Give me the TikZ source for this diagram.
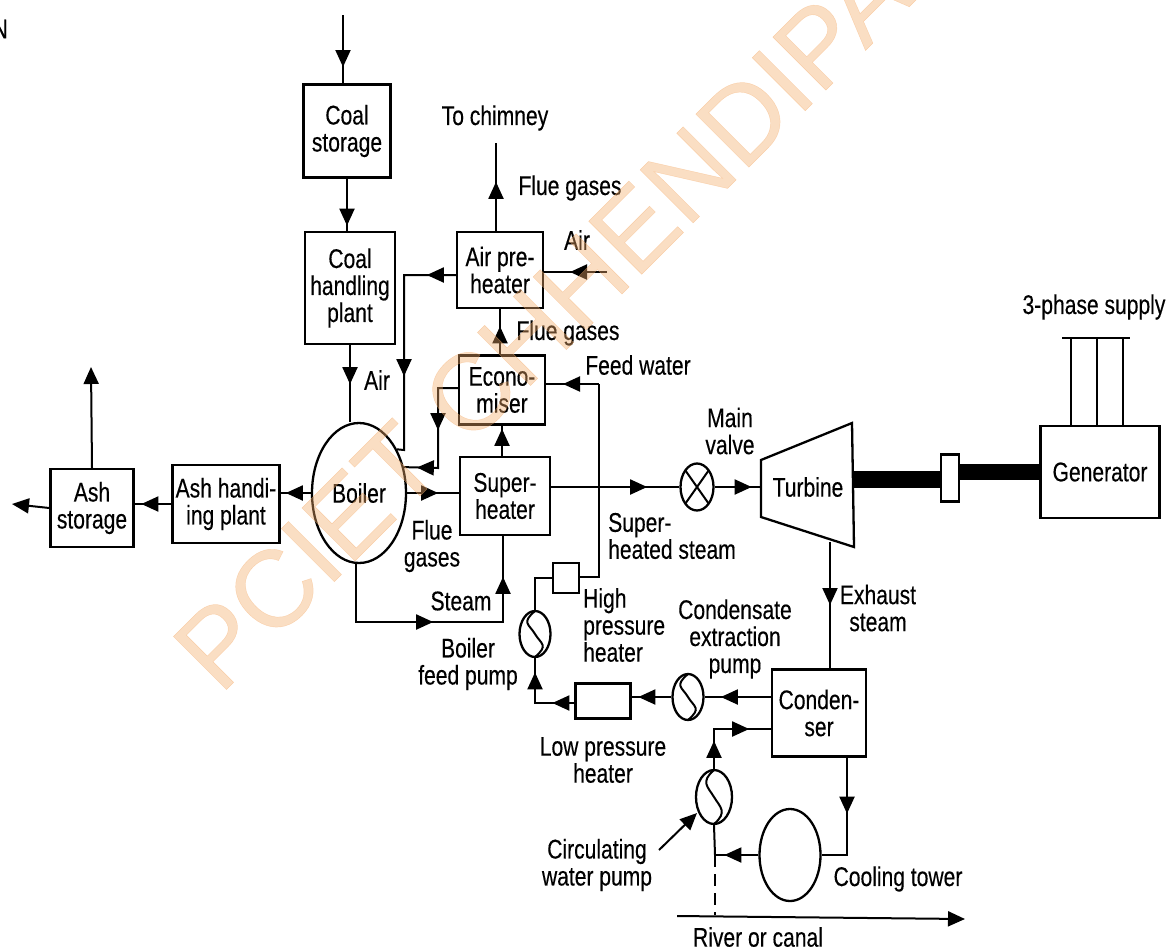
\documentclass[tikz,border=0pt]{standalone}
\usepackage{fontspec}
\setmainfont[FakeStretch=0.78,FakeBold=0.3]{Liberation Sans}
\newfontfamily\markfont[FakeBold=0.4]{Liberation Sans}
\usetikzlibrary{arrows.meta,shapes.geometric,decorations.markings}
\definecolor{stamp}{RGB}{243,172,106}

\begin{document}
\begin{tikzpicture}[x=1pt,y=-1pt]
\tikzstyle{main}=[draw=black, line width=2.3pt, inner sep=0pt, align=center, font=\fontsize{27}{27}\selectfont]
\tikzstyle{rect}=[main, rectangle]
\tikzstyle{round}=[main, ellipse]
\tikzstyle{label}=[inner sep=0pt, align=center, font=\fontsize{27}{27}\selectfont]
\tikzstyle{leftlabel}=[label, align=left, anchor=west]
\tikzstyle{connect}=[line width=2pt]
\tikzstyle{flow}=[postaction={decorate, decoration={markings, mark=at position #1 with {\arrow{Triangle[length=17pt,width=15pt]}}}}]
\tikzstyle{ending}=[connect, -{Triangle[length=17pt,width=15pt]}]
\tikzstyle{shaft}=[line width=17pt]
\tikzstyle{pump}=[round, path picture={\draw[line width=2pt] (path picture bounding box.north) .. controls +(-14pt,-12pt) and +(-6pt,10pt) .. (path picture bounding box.center) .. controls +(6pt,-10pt) and +(14pt,12pt) .. (path picture bounding box.south);}]
\tikzstyle{valve}=[round, path picture={\draw[line width=2pt] (path picture bounding box.north west) -- (path picture bounding box.south east) (path picture bounding box.north east) -- (path picture bounding box.south west);}]

  \useasboundingbox (0,0) rectangle (1174,951);

  \node[label, anchor=east] (cutoff) at (8,29) {N};

  \node[rect, minimum width=87, minimum height=93]  (coalstore)   at (347,131) {Coal\\storage};
  \node[rect, minimum width=90, minimum height=112] (coalhandle)  at (350,288) {Coal\\handling\\plant};
  \node[rect, minimum width=86, minimum height=76]  (airpre)      at (500,270) {Air pre-\\heater};
  \node[rect, minimum width=86, minimum height=69]  (econo)       at (502,390) {Econo-\\miser};
  \node[rect, minimum width=90, minimum height=78]  (super)       at (505,496) {Super-\\heater};
  \node[round, minimum width=94, minimum height=140] (boiler)     at (359,493) {Boiler};
  \node[rect, minimum width=107, minimum height=78] (ashhandle)   at (226,504) {Ash handi-\\ing plant};
  \node[rect, minimum width=83, minimum height=78]  (ashstore)    at (92,508)  {Ash\\storage};

  \node[rect, minimum width=26, minimum height=30]  (hpheater)    at (566,578) {};
  \node[rect, minimum width=55, minimum height=35]  (lpheater)    at (603,701) {};
  \node[pump, minimum width=31, minimum height=46]  (feedpump)    at (535,634) {};
  \node[pump, minimum width=31, minimum height=46]  (condpump)    at (688,697) {};
  \node[pump, minimum width=36, minimum height=54]  (circpump)    at (714,797) {};
  \node[valve, minimum width=33, minimum height=47] (mainvalve)   at (697,487) {};

  \node[rect, minimum width=94, minimum height=87]  (condenser)   at (819,713) {Conden-\\ser};
  \node[round, minimum width=61, minimum height=92] (tower)       at (790,855) {};
  \node[rect, minimum width=119, minimum height=92] (generator)   at (1100,472) {Generator};
  \node[rect, minimum width=18, minimum height=47]  (coupling)    at (950,478) {};

  \coordinate (tlt) at (761,460);
  \coordinate (trt) at (852,423);
  \coordinate (trb) at (854,547);
  \coordinate (tlb) at (761,517);
  \draw[main] (tlt) -- (trt) -- (trb) -- (tlb) -- cycle;
  \node[label] (turbine) at (808,487) {Turbine};

  \node[label] (chimney)    at (495,118) {To chimney};
  \node[label] (fluea)      at (570,188) {Flue gases};
  \node[label] (airb)       at (577,240) {Air};
  \node[label] (flueb)      at (568,333) {Flue gases};
  \node[label] (feedwater)  at (638,365) {Feed water};
  \node[label] (aira)       at (377,380) {Air};
  \node[label] (fluec)      at (432,546) {Flue\\gases};
  \node[label] (steam)      at (461,601) {Steam};
  \node[label] (feedlabel)  at (468,664) {Boiler\\feed pump};
  \node[leftlabel] (shlabel)  at (608,536) {Super-\\heated steam};
  \node[leftlabel] (hplabel)  at (583,625) {High\\pressure\\heater};
  \node[label] (condlabel)  at (735,639) {Condensate\\extraction\\pump};
  \node[label] (exhaust)    at (878,608) {Exhaust\\steam};
  \node[label] (lplabel)    at (603,760) {Low pressure\\heater};
  \node[label] (circlabel)  at (597,865) {Circulating\\water pump};
  \node[label] (coolabel)   at (898,879) {Cooling tower};
  \node[label] (river)      at (758,937) {River or canal};
  \node[label] (valvelabel) at (730,431) {Main\\valve};
  \node[label] (supply)     at (1094,307) {3-phase supply};

  \coordinate (coaltop)   at (343,15);
  \coordinate (chimneyup) at (496,143);
  \coordinate (airin)     at (607,272);
  \coordinate (ashup)     at (91,367);
  \coordinate (ashout)    at (12,504);
  \coordinate (airbend)   at (404,275);
  \coordinate (airfoot)   at (404,450);
  \coordinate (ecobend)   at (438,388);
  \coordinate (ecofoot)   at (438,468);
  \coordinate (feedtop)   at (599,384);
  \coordinate (feedfoot)  at (599,577);
  \coordinate (hpbend)    at (535,578);
  \coordinate (lpbend)    at (535,703);
  \coordinate (stmbend)   at (356,622);
  \coordinate (stmup)     at (503,622);
  \coordinate (cwbend)    at (714,729);
  \coordinate (cwtee)     at (715,855);
  \coordinate (rivertee)  at (715,915);
  \coordinate (riverl)    at (677,916);
  \coordinate (riverr)    at (965,919);
  \coordinate (towerbend) at (847,855);
  \coordinate (circtail)  at (659,850);
  \coordinate (circhead)  at (697,813);
  \coordinate (exhaustup) at (830,542);
  \coordinate (shaftin)   at (853,479);
  \coordinate (busl)      at (1062,338);
  \coordinate (busr)      at (1130,338);

  \draw[connect, flow=52pt] (coaltop) -- (coaltop |- coalstore.north);
  \draw[connect, flow=47pt] (coalstore.south) -- (coalstore.south |- coalhandle.north);
  \draw[connect, flow=39pt] (coalhandle.south) -- (coalhandle.south |- boiler.north);
  \draw[connect, flow=49pt] (chimneyup |- airpre.north) -- (chimneyup);
  \draw[connect, flow=37pt] (airin) -- (airin -| airpre.east);
  \draw[connect, flow=28pt] (airpre.south |- econo.north) -- (airpre.south);
  \draw[connect, flow=27pt] (econo.south |- super.north) -- (econo.south);
  \draw[connect, flow=29pt, flow=153pt] (airbend -| airpre.west) -- (airbend) -- (airfoot) -- (boiler.49);
  \draw[connect, flow=62pt, flow=121pt] (ecobend -| econo.west) -- (ecobend) -- (ecofoot) -- (boiler.30);
  \draw[connect, flow=31pt] (boiler.east) -- (boiler.east -| super.west);
  \draw[connect, flow=25pt] (boiler.west) -- (boiler.west -| ashhandle.east);
  \draw[connect, flow=30pt] (ashhandle.west) -- (ashhandle.west -| ashstore.east);
  \draw[ending] (ashstore.west) -- (ashout);
  \draw[ending] (ashstore.north) -- (ashup);
  \draw[connect, flow=135pt, flow=250pt] (stmbend |- boiler.south) -- (stmbend) -- (stmup) -- (stmup |- super.south);
  \draw[connect, flow=36pt] (feedtop) -- (feedtop -| econo.east);
  \draw[connect] (feedtop) -- (feedfoot) -- (feedfoot -| hpheater.east);
  \draw[connect] (hpheater.west |- hpbend) -- (hpbend) -- (feedpump.north);
  \draw[connect, flow=22pt, flow=70pt] (lpheater.west |- lpbend) -- (lpbend) -- (feedpump.south);
  \draw[connect, flow=33pt] (condpump.west) -- (condpump.west -| lpheater.east);
  \draw[connect, flow=50pt] (condpump.east -| condenser.west) -- (condpump.east);
  \draw[connect, flow=28pt, flow=75pt] (circpump.north) -- (cwbend) -- (cwbend -| condenser.west);
  \draw[connect] (circpump.south) -- (cwtee);
  \draw[connect, dash pattern=on 12pt off 7pt] (cwtee) -- (rivertee);
  \draw[connect, flow=34pt] (tower.west) -- (tower.west -| cwtee);
  \draw[connect, flow=56pt] (towerbend |- condenser.south) -- (towerbend) -- (tower.east);
  \draw[connect, flow=63pt] (exhaustup) -- (exhaustup |- condenser.north);
  \draw[ending] (riverl) -- (riverr);
  \draw[ending] (circtail) -- (circhead);

  \draw[connect, flow=96pt] (super.east |- mainvalve.west) -- (mainvalve.west);
  \draw[connect, flow=37pt] (mainvalve.east) -- (mainvalve.east -| tlt);
  \draw[shaft] (shaftin) -- (coupling.west |- shaftin);
  \draw[shaft, line width=16pt] (coupling.east |- generator.west) -- (generator.west);

  \draw[connect] (busl) -- (busr);
  \foreach \xpos in {1071,1097,1123} {
    \draw[connect] (\xpos,338) -- (\xpos,426);
  }

  \node[inner sep=0pt, rotate=45, anchor=base west, text=stamp, text opacity=0.4, font=\fontsize{109}{109}\selectfont\markfont] (stamp) at (220,696) {PCIET CHHENDIPA};
\end{tikzpicture}
\end{document}
